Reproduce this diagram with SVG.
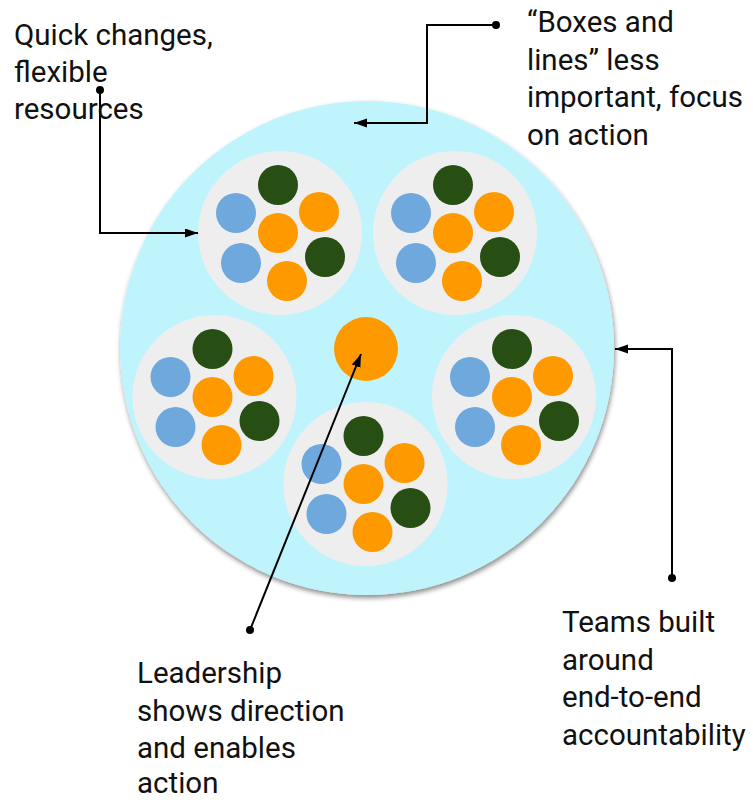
<svg xmlns="http://www.w3.org/2000/svg" xmlns:xlink="http://www.w3.org/1999/xlink" width="753" height="800" viewBox="0 0 753 800">
<style>
.lbl{font-family:Roboto,"Liberation Sans",sans-serif;font-size:29.5px;fill:#111;}
.con{fill:none;stroke:#000;stroke-width:2;}
.dot{fill:#000;}
.grp{fill:#eeeeee;}
.bl{fill:#6fa8dc;}
.or{fill:#ff9900;}
.gr{fill:#274e13;}
</style>
<defs>
<filter id="sh" x="-10%" y="-10%" width="120%" height="120%">
<feDropShadow dx="1" dy="3" stdDeviation="2.5" flood-color="#000" flood-opacity="0.45"/>
</filter>
<marker id="arr" markerUnits="userSpaceOnUse" markerWidth="14" markerHeight="10" refX="13" refY="4.5" orient="auto">
<path d="M0,0 L13,4.5 L0,9 z" fill="#000"/>
</marker>
<g id="cluster">
<circle class="grp" cx="0" cy="0" r="82"/>
<circle class="gr" cx="-2" cy="-48" r="20"/>
<circle class="or" cx="39" cy="-21" r="20"/>
<circle class="bl" cx="-44" cy="-20" r="20"/>
<circle class="or" cx="-2" cy="0" r="20"/>
<circle class="bl" cx="-39" cy="30" r="20"/>
<circle class="gr" cx="45" cy="24" r="20"/>
<circle class="or" cx="7" cy="48" r="20"/>
</g>
</defs>
<rect width="753" height="800" fill="#fff"/>
<g id="org">
<circle cx="367" cy="348" r="247" fill="#bff4fd" filter="url(#sh)"/>
</g>
<g id="team-tl"><use xlink:href="#cluster" x="280" y="233"/></g>
<g id="team-tr"><use xlink:href="#cluster" x="455" y="233"/></g>
<g id="team-lm"><use xlink:href="#cluster" x="214.5" y="397"/></g>
<g id="team-bc"><use xlink:href="#cluster" x="365.5" y="484"/></g>
<g id="team-rm"><use xlink:href="#cluster" x="514" y="397"/></g>
<g id="leader"><circle class="or" cx="366" cy="349" r="32"/></g>
<g id="connectors">
<path class="con" d="M100,90 V233 H198" marker-end="url(#arr)"/>
<circle class="dot" cx="100" cy="90" r="4"/>
<path class="con" d="M496,25 H427 V123 H354" marker-end="url(#arr)"/>
<circle class="dot" cx="496" cy="25" r="4"/>
<path class="con" d="M672,578 V349 H615" marker-end="url(#arr)"/>
<circle class="dot" cx="672" cy="578" r="4"/>
<path class="con" d="M250,630 L361,354" marker-end="url(#arr)"/>
<circle class="dot" cx="250" cy="630" r="4"/>
</g>
<g id="label-quick">
<text class="lbl" x="14" y="45">Quick changes,</text>
<text class="lbl" x="14" y="82">flexible</text>
<text class="lbl" x="14" y="119">resources</text>
</g>
<g id="label-boxes">
<text class="lbl" x="527" y="32">“Boxes and</text>
<text class="lbl" x="527" y="69.5">lines” less</text>
<text class="lbl" x="527" y="107">important, focus</text>
<text class="lbl" x="527" y="145">on action</text>
</g>
<g id="label-teams">
<text class="lbl" x="562" y="632">Teams built</text>
<text class="lbl" x="562" y="669.5">around</text>
<text class="lbl" x="562" y="707">end-to-end</text>
<text class="lbl" x="562" y="744.5">accountability</text>
</g>
<g id="label-leadership">
<text class="lbl" x="137" y="683">Leadership</text>
<text class="lbl" x="137" y="720.5">shows direction</text>
<text class="lbl" x="137" y="757.5">and enables</text>
<text class="lbl" x="137" y="793">action</text>
</g>
</svg>
